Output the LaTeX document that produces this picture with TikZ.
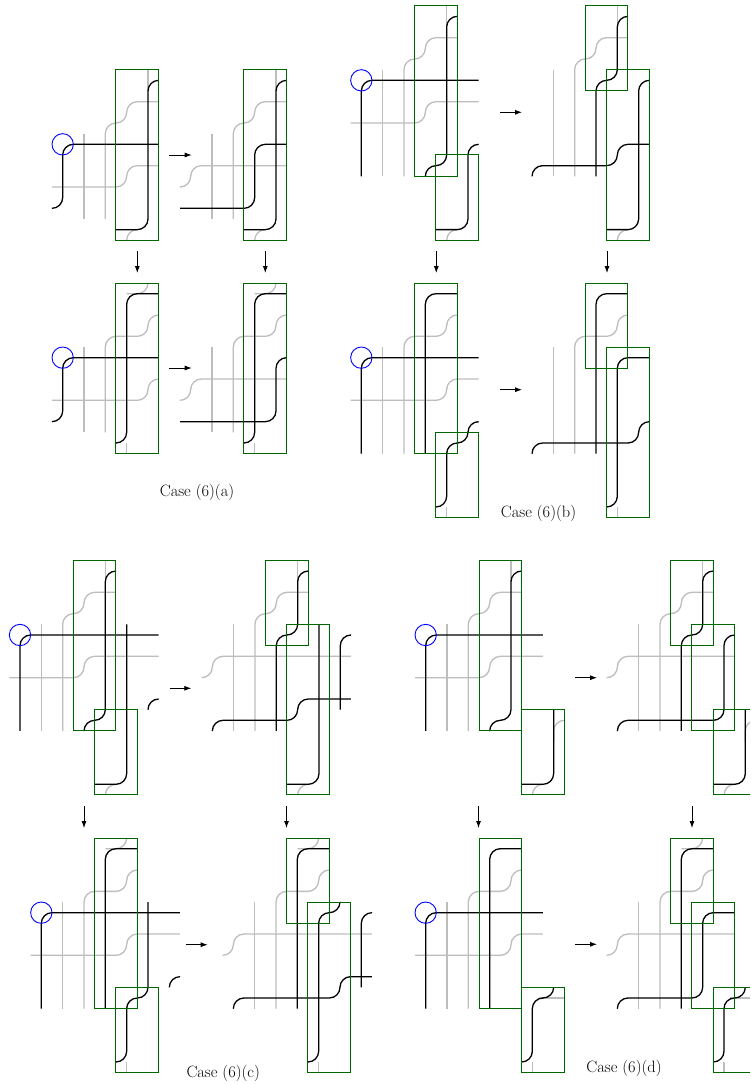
\documentclass[tikz,border=0pt]{standalone}
\usetikzlibrary{arrows.meta}
\definecolor{wiregray}{gray}{0.74}
\definecolor{boxgreen}{rgb}{0,0.4,0}
\tikzset{
  panel/.style={x=21.33pt,y=-21.33pt,rounded corners=10.67pt,line cap=butt},
  gw/.style={draw=wiregray,line width=1.3pt},
  bw/.style={draw=black,line width=1.3pt},
  gbox/.style={draw=boxgreen,line width=1pt,sharp corners},
  bcirc/.style={draw=blue,line width=0.9pt,sharp corners},
  arr/.style={draw=black,line width=0.8pt,-{Latex[length=7pt,width=5pt]}},
  captxt/.style={font=\fontsize{16.4}{19}\selectfont,text=black,inner sep=0pt}
}
\newcommand{\pnl}[2]{\begin{scope}[shift={(#1pt,-#2pt)},panel]}
\newcommand{\ha}[3]{\path[arr] (#1pt,-#3pt) -- (#2pt,-#3pt);}
\newcommand{\va}[1]{\path[arr] (#1pt,-251pt) -- (#1pt,-273pt);}
\newcommand{\vb}[1]{\path[arr] (#1pt,-806pt) -- (#1pt,-828pt);}
\newcommand{\gcol}[1]{\path[gw] (1,-0.5) -- (1,#1);}
\newcommand{\gup}[1]{\path[gw] (2,#1) -- (2,-1) -- (3,-1) -- (3,-2) -- (4.5,-2); \path[gw] (4,-3.5) -- (4,-2.5);}
\newcommand{\gupb}[1]{\path[gw] (2,#1) -- (2,-1) -- (4,-1) -- (4,-2) -- (4.5,-2); \path[gw] (3,-3) -- (4,-3) -- (4,-3.5);}
\begin{document}
\begin{tikzpicture}
\clip (0,0) rectangle (750pt,-1084pt);
\fill[white] (0,0) rectangle (750pt,-1084pt);

% ---- Case (6)(a)
\pnl{62.67}{144.33}
 \gcol{3.5}\gup{3.5}
 \path[gw] (-0.5,2) -- (3,2) -- (3,1) -- (4.5,1);
 \path[gw] (3,4.5) -- (3,4) -- (3.5,4);
 \path[bw] (-0.5,3) -- (0,3) -- (0,0) -- (4.5,0);
 \path[bw] (2.5,4) -- (4,4) -- (4,-3) -- (4.5,-3);
 \path[gbox] (2.5,-3.5) rectangle (4.5,4.5);
 \path[bcirc] (0,0) circle (10.67pt);
\end{scope}
\pnl{190.67}{144.33}
 \gcol{3.5}\gup{3.5}
 \path[gw] (-0.5,2) -- (0,2) -- (0,1) -- (4.5,1);
 \path[gw] (3,4.5) -- (3,4) -- (3.5,4);
 \path[bw] (-0.5,3) -- (3,3) -- (3,0) -- (4.5,0);
 \path[bw] (2.5,4) -- (4,4) -- (4,-3) -- (4.5,-3);
 \path[gbox] (2.5,-3.5) rectangle (4.5,4.5);
\end{scope}
\pnl{62.67}{357.67}
 \gcol{3.5}\gupb{3.5}
 \path[gw] (-0.5,2) -- (4,2) -- (4,1) -- (4.5,1);
 \path[gw] (3,4.5) -- (3,4);
 \path[bw] (-0.5,3) -- (0,3) -- (0,0) -- (4.5,0);
 \path[bw] (2.5,4) -- (3,4) -- (3,-3) -- (4.5,-3);
 \path[gbox] (2.5,-3.5) rectangle (4.5,4.5);
 \path[bcirc] (0,0) circle (10.67pt);
\end{scope}
\pnl{190.67}{357.67}
 \gcol{3.5}\gupb{3.5}
 \path[gw] (-0.5,2) -- (0,2) -- (0,1) -- (4.5,1);
 \path[gw] (3,4.5) -- (3,4);
 \path[bw] (-0.5,3) -- (4,3) -- (4,0) -- (4.5,0);
 \path[bw] (2.5,4) -- (3,4) -- (3,-3) -- (4.5,-3);
 \path[gbox] (2.5,-3.5) rectangle (4.5,4.5);
\end{scope}
\ha{169.3}{191.7}{155}
\ha{169.3}{191.7}{368}
\va{137.3}
\va{265.3}
\node[captxt] (capa) at (197pt,-492.5pt) {Case (6)(a)};

% ---- Case (6)(b)
\pnl{361.33}{80.33}
 \gcol{4.5}\gup{4.5}
 \path[gw] (-0.5,2) -- (3,2) -- (3,1) -- (5.5,1);
 \path[gw] (4,7.5) -- (4,7) -- (4.5,7);
 \path[bw] (0,4.5) -- (0,0) -- (5.5,0);
 \path[bw] (3,4.5) -- (3,4) -- (4,4) -- (4,-3) -- (4.5,-3);
 \path[bw] (3.5,7) -- (5,7) -- (5,3) -- (5.5,3);
 \path[gbox] (2.5,-3.5) rectangle (4.5,4.5);
 \path[gbox] (3.5,3.5) rectangle (5.5,7.5);
 \path[bcirc] (0,0) circle (10.67pt);
\end{scope}
\pnl{532}{80.33}
 \gcol{4.5}\gup{4.5}
 \path[gw] (4,7.5) -- (4,7) -- (4.5,7);
 \path[bw] (4.5,-3) -- (4,-3) -- (4,0) -- (3,0) -- (3,4.5);
 \path[bw] (0,4.5) -- (0,4) -- (4,4) -- (4,3) -- (5.5,3);
 \path[bw] (3.5,7) -- (5,7) -- (5,0) -- (5.5,0);
 \path[gbox] (2.5,-3.5) rectangle (4.5,0.5);
 \path[gbox] (3.5,-0.5) rectangle (5.5,7.5);
\end{scope}
\pnl{361.33}{357.67}
 \gcol{4.5}\path[gw] (2,4.5) -- (2,-1) -- (4,-1) -- (4,-2) -- (4.5,-2);
 \path[gw] (-0.5,2) -- (4,2) -- (4,1) -- (5.5,1);
 \path[gw] (4,7.5) -- (4,7);
 \path[bw] (0,4.5) -- (0,0) -- (5.5,0);
 \path[bw] (3,4.5) -- (3,-3) -- (4.5,-3);
 \path[bw] (3.5,7) -- (4,7) -- (4,4) -- (5,4) -- (5,3) -- (5.5,3);
 \path[gbox] (2.5,-3.5) rectangle (4.5,4.5);
 \path[gbox] (3.5,3.5) rectangle (5.5,7.5);
 \path[bcirc] (0,0) circle (10.67pt);
\end{scope}
\pnl{532}{357.67}
 \gcol{4.5}\path[gw] (2,4.5) -- (2,-1) -- (4,-1) -- (4,-2) -- (4.5,-2);
 \path[gw] (4,7.5) -- (4,7);
 \path[bw] (3,4.5) -- (3,-3) -- (4.5,-3);
 \path[bw] (0,4.5) -- (0,4) -- (5,4) -- (5,3) -- (5.5,3);
 \path[bw] (3.5,7) -- (4,7) -- (4,0) -- (5.5,0);
 \path[gbox] (2.5,-3.5) rectangle (4.5,0.5);
 \path[gbox] (3.5,-0.5) rectangle (5.5,7.5);
\end{scope}
\ha{500.3}{522}{112.3}
\ha{500.3}{522}{389.7}
\va{436.3}
\va{607}
\node[captxt] (capb) at (538.5pt,-513.5pt) {Case (6)(b)};

% ---- Case (6)(c)
\pnl{20}{635}
 \gcol{4.5}\gup{4.5}
 \path[gw] (-0.5,2) -- (3,2) -- (3,1) -- (6.5,1);
 \path[gw] (4,7.5) -- (4,7) -- (4.5,7);
 \path[bw] (0,4.5) -- (0,0) -- (6.5,0);
 \path[bw] (3,4.5) -- (3,4) -- (4,4) -- (4,-3) -- (4.5,-3);
 \path[bw] (3.5,7) -- (5,7) -- (5,-0.5);
 \path[bw] (6,3.5) -- (6,3) -- (6.5,3);
 \path[gbox] (2.5,-3.5) rectangle (4.5,4.5);
 \path[gbox] (3.5,3.5) rectangle (5.5,7.5);
 \path[bcirc] (0,0) circle (10.67pt);
\end{scope}
\pnl{212.33}{635}
 \gcol{4.5}\gup{4.5}
 \path[gw] (-0.5,2) -- (0,2) -- (0,1) -- (6.5,1);
 \path[gw] (4,7.5) -- (4,7) -- (4.5,7);
 \path[bw] (4.5,-3) -- (4,-3) -- (4,0) -- (3,0) -- (3,4.5);
 \path[bw] (0,4.5) -- (0,4) -- (4,4) -- (4,3) -- (6.5,3);
 \path[bw] (3.5,7) -- (5,7) -- (5,-0.5);
 \path[bw] (6,3.5) -- (6,0) -- (6.5,0);
 \path[gbox] (2.5,-3.5) rectangle (4.5,0.5);
 \path[gbox] (3.5,-0.5) rectangle (5.5,7.5);
\end{scope}
\pnl{41.33}{912.67}
 \gcol{4.5}\gupb{4.5}
 \path[gw] (-0.5,2) -- (4,2) -- (4,1) -- (6.5,1);
 \path[gw] (4,7.5) -- (4,7);
 \path[bw] (0,4.5) -- (0,0) -- (6.5,0);
 \path[bw] (3,4.5) -- (3,-3) -- (4.5,-3);
 \path[bw] (3.5,7) -- (4,7) -- (4,4) -- (5,4) -- (5,-0.5);
 \path[bw] (6,3.5) -- (6,3) -- (6.5,3);
 \path[gbox] (2.5,-3.5) rectangle (4.5,4.5);
 \path[gbox] (3.5,3.5) rectangle (5.5,7.5);
 \path[bcirc] (0,0) circle (10.67pt);
\end{scope}
\pnl{233.33}{912.67}
 \gcol{4.5}\gupb{4.5}
 \path[gw] (-0.5,2) -- (0,2) -- (0,1) -- (6.5,1);
 \path[gw] (4,7.5) -- (4,7);
 \path[bw] (3,4.5) -- (3,-3) -- (4.5,-3);
 \path[bw] (0,4.5) -- (0,4) -- (5,4) -- (5,3) -- (6.5,3);
 \path[bw] (3.5,7) -- (4,7) -- (4,0) -- (5,0) -- (5,-0.5);
 \path[bw] (6,3.5) -- (6,0) -- (6.5,0);
 \path[gbox] (2.5,-3.5) rectangle (4.5,0.5);
 \path[gbox] (3.5,-0.5) rectangle (5.5,7.5);
\end{scope}
\ha{169.7}{191.3}{688.3}
\ha{185.7}{207.7}{944.7}
\vb{84}
\vb{286.5}
\node[captxt] (capc) at (223.2pt,-1073.5pt) {Case (6)(c)};

% ---- Case (6)(d)
\pnl{425.67}{635}
 \gcol{4.5}\gup{4.5}
 \path[gw] (-0.5,2) -- (3,2) -- (3,1) -- (5.5,1);
 \path[gw] (5,7.5) -- (5,7) -- (5.5,7);
 \path[gw] (6,5) -- (6,4) -- (6.5,4);
 \path[bw] (0,4.5) -- (0,0) -- (5.5,0);
 \path[bw] (3,4.5) -- (3,4) -- (4,4) -- (4,-3) -- (4.5,-3);
 \path[bw] (4.5,7) -- (6,7) -- (6,3.5);
 \path[gbox] (2.5,-3.5) rectangle (4.5,4.5);
 \path[gbox] (4.5,3.5) rectangle (6.5,7.5);
 \path[bcirc] (0,0) circle (10.67pt);
\end{scope}
\pnl{617.33}{635}
 \gcol{4.5}\gup{4.5}
 \path[gw] (-0.5,2) -- (0,2) -- (0,1) -- (5.5,1);
 \path[gw] (5,7.5) -- (5,7) -- (5.5,7);
 \path[gw] (6,5) -- (6,4) -- (6.5,4);
 \path[bw] (4.5,-3) -- (4,-3) -- (4,0) -- (3,0) -- (3,4.5);
 \path[bw] (0,4.5) -- (0,4) -- (5,4) -- (5,0) -- (5.5,0);
 \path[bw] (4.5,7) -- (6,7) -- (6,3.5);
 \path[gbox] (2.5,-3.5) rectangle (4.5,0.5);
 \path[gbox] (3.5,-0.5) rectangle (5.5,4.5);
 \path[gbox] (4.5,3.5) rectangle (6.5,7.5);
\end{scope}
\pnl{425.67}{912.67}
 \gcol{4.5}\path[gw] (2,4.5) -- (2,-1) -- (4,-1) -- (4,-2) -- (4.5,-2);
 \path[gw] (-0.5,2) -- (4,2) -- (4,1) -- (5.5,1);
 \path[gw] (5,7.5) -- (5,7);
 \path[gw] (5.3,4) -- (6.5,4);
 \path[bw] (0,4.5) -- (0,0) -- (5.5,0);
 \path[bw] (3,4.5) -- (3,-3) -- (4.5,-3);
 \path[bw] (4.5,7) -- (5,7) -- (5,4) -- (6,4) -- (6,3.5);
 \path[gbox] (2.5,-3.5) rectangle (4.5,4.5);
 \path[gbox] (4.5,3.5) rectangle (6.5,7.5);
 \path[bcirc] (0,0) circle (10.67pt);
\end{scope}
\pnl{617.33}{912.67}
 \gcol{4.5}\gupb{4.5}
 \path[gw] (-0.5,2) -- (0,2) -- (0,1) -- (5.5,1);
 \path[gw] (5,7.5) -- (5,7);
 \path[gw] (5.3,4) -- (6.5,4);
 \path[bw] (3,4.5) -- (3,-3) -- (4.5,-3);
 \path[bw] (0,4.5) -- (0,4) -- (4,4) -- (4,0) -- (5.5,0);
 \path[bw] (4.5,7) -- (5,7) -- (5,4) -- (6,4) -- (6,3.5);
 \path[gbox] (2.5,-3.5) rectangle (4.5,0.5);
 \path[gbox] (3.5,-0.5) rectangle (5.5,4.5);
 \path[gbox] (4.5,3.5) rectangle (6.5,7.5);
\end{scope}
\ha{575}{597}{677.7}
\ha{575}{597}{944.3}
\vb{478.5}
\vb{692}
\node[captxt] (capd) at (624pt,-1068.5pt) {Case (6)(d)};
\end{tikzpicture}
\end{document}
